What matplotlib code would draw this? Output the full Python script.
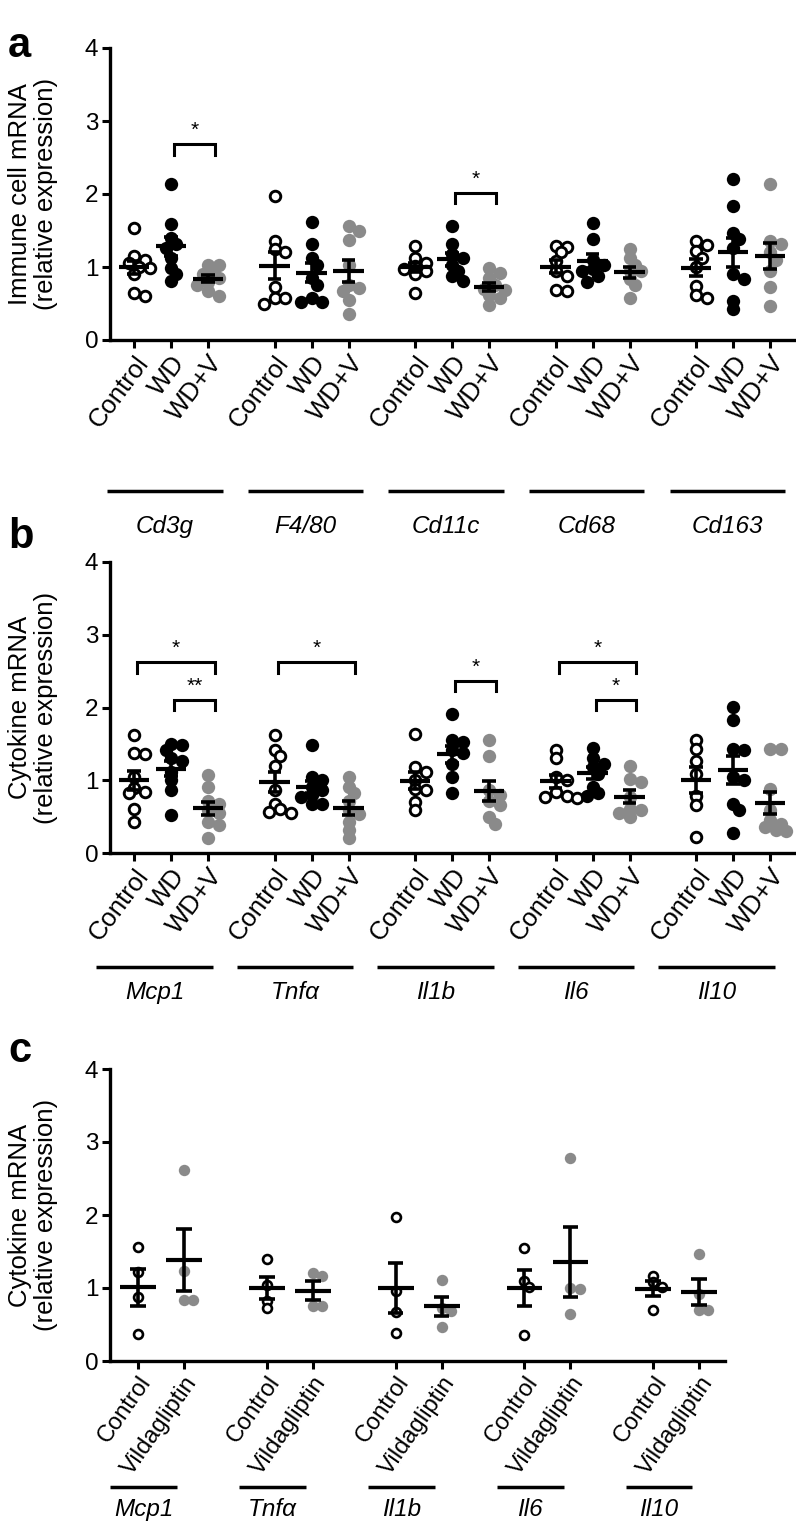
import numpy as np
import matplotlib
matplotlib.use('Agg')
import matplotlib.pyplot as plt
from matplotlib.transforms import blended_transform_factory

plt.rcParams['font.family'] = ['Liberation Sans', 'DejaVu Sans']

# ---------------- data ----------------
groups_ab = ['Control', 'WD', 'WD+V']
groups_c = ['Control', 'Vildagliptin']

genes_a = ['Cd3g', 'F4/80', 'Cd11c', 'Cd68', 'Cd163']
a_control = [
    [1.53, 1.15, 1.10, 1.05, 1.00, 0.98, 0.90, 0.65, 0.60],
    [1.97, 1.36, 1.24, 1.20, 0.72, 0.57, 0.57, 0.50],
    [1.29, 1.13, 1.06, 1.01, 0.97, 0.95, 0.90, 0.64],
    [1.29, 1.28, 1.20, 1.08, 0.94, 0.87, 0.69, 0.67],
    [1.36, 1.30, 1.22, 1.13, 1.00, 0.74, 0.62, 0.57],
]
a_wd = [
    [2.14, 1.59, 1.40, 1.31, 1.26, 1.13, 0.99, 0.90, 0.81],
    [1.62, 1.32, 1.13, 1.03, 0.85, 0.76, 0.57, 0.52, 0.52],
    [1.56, 1.31, 1.18, 1.13, 1.03, 0.95, 0.87, 0.81],
    [1.60, 1.38, 1.10, 1.03, 0.97, 0.95, 0.87, 0.80],
    [2.20, 1.83, 1.47, 1.38, 1.26, 0.90, 0.83, 0.53, 0.42],
]
a_wdv = [
    [1.03, 1.03, 0.95, 0.90, 0.85, 0.80, 0.75, 0.67, 0.60],
    [1.56, 1.50, 1.37, 1.03, 0.76, 0.71, 0.67, 0.55, 0.35],
    [0.99, 0.92, 0.85, 0.76, 0.70, 0.69, 0.62, 0.57, 0.48],
    [1.24, 1.13, 1.03, 0.95, 0.94, 0.83, 0.75, 0.57],
    [2.14, 1.36, 1.31, 1.20, 1.10, 0.95, 0.72, 0.46],
]
# significance: (gene index, group from, group to, bracket height, label)
sig_a = [(0, 1, 2, 2.68, '*'), (2, 1, 2, 2.01, '*')]

genes_b = ['Mcp1', 'Tnfα', 'Il1b', 'Il6', 'Il10']
b_control = [
    [1.62, 1.37, 1.36, 1.04, 0.90, 0.84, 0.82, 0.61, 0.43],
    [1.62, 1.42, 1.33, 1.20, 0.86, 0.68, 0.60, 0.57, 0.55],
    [1.63, 1.18, 1.11, 1.00, 0.88, 0.86, 0.70, 0.59],
    [1.41, 1.30, 1.04, 1.00, 0.84, 0.78, 0.77, 0.75],
    [1.55, 1.43, 1.27, 1.09, 0.79, 0.66, 0.22],
]
b_wd = [
    [1.50, 1.48, 1.41, 1.30, 1.27, 1.11, 1.00, 0.86, 0.52],
    [1.48, 1.04, 1.00, 0.91, 0.86, 0.80, 0.77, 0.68, 0.68],
    [1.91, 1.55, 1.52, 1.41, 1.37, 1.23, 1.04, 0.82],
    [1.45, 1.30, 1.23, 1.18, 1.09, 0.91, 0.82, 0.79],
    [2.01, 1.83, 1.43, 1.41, 1.04, 1.01, 0.68, 0.59, 0.28],
]
b_wdv = [
    [1.07, 0.91, 0.72, 0.68, 0.59, 0.55, 0.43, 0.38, 0.20],
    [1.04, 0.91, 0.82, 0.72, 0.59, 0.54, 0.43, 0.31, 0.20],
    [1.55, 1.34, 0.86, 0.80, 0.72, 0.66, 0.49, 0.40],
    [1.19, 1.02, 0.98, 0.77, 0.61, 0.59, 0.55, 0.50],
    [1.43, 1.43, 0.88, 0.59, 0.45, 0.40, 0.36, 0.31, 0.30],
]
sig_b = [(0, 0, 2, 2.62, '*'), (0, 1, 2, 2.10, '**'), (1, 0, 2, 2.62, '*'),
         (2, 1, 2, 2.36, '*'), (3, 0, 2, 2.62, '*'), (3, 1, 2, 2.10, '*')]

genes_c = ['Mcp1', 'Tnfα', 'Il1b', 'Il6', 'Il10']
c_control = [
    [1.56, 1.22, 0.88, 0.37],
    [1.40, 1.04, 0.82, 0.73],
    [1.97, 0.96, 0.67, 0.39],
    [1.55, 1.10, 1.02, 0.35],
    [1.17, 1.08, 1.02, 0.70],
]
c_vild = [
    [2.62, 1.23, 0.84, 0.84],
    [1.20, 1.16, 0.75, 0.75],
    [1.11, 0.72, 0.69, 0.47],
    [2.78, 1.00, 0.99, 0.65],
    [1.47, 0.92, 0.70, 0.70],
]

ylabel_a = 'Immune cell mRNA\n(relative expression)'
ylabel_bc = 'Cytokine mRNA\n(relative expression)'
yticks = [0, 1, 2, 3, 4]

# ---------------- styles ----------------
GRAY = '#8a8a8a'
open_style = dict(marker='o', mfc='white', mec='black')
black_style = dict(marker='o', mfc='black', mec='black')
gray_style = dict(marker='o', mfc=GRAY, mec=GRAY)

W, H = 796, 1524
fig = plt.figure(figsize=(W / 100, H / 100), dpi=100)


def rect(l, r, t, b):
    return [l / W, 1 - b / H, (r - l) / W, (b - t) / H]


def swarm(vals, center, ax, diam_px, mind_frac=0.58):
    p0 = ax.transData.transform((0, 0))
    p1 = ax.transData.transform((1, 1))
    ppx, ppy = p1[0] - p0[0], p1[1] - p0[1]
    vals = np.asarray(vals, dtype=float)
    xs = np.zeros(len(vals))
    placed = []
    step = diam_px * 0.42
    mind = diam_px * mind_frac
    for i in np.argsort(-vals):
        y = vals[i] * ppy
        for k in [0, 1, -1, 2, -2, 3, -3, 4, -4]:
            x = k * step
            if all((x - px) ** 2 + (y - py) ** 2 >= mind ** 2 for px, py in placed):
                break
        placed.append((x, y))
        xs[i] = center + x / ppx
    return xs


def setup_axes(ax, xlim, positions, labels, rot=53, xfs=18.5):
    ax.set_xlim(*xlim)
    ax.set_ylim(0, 4)
    ax.set_yticks(yticks)
    ax.tick_params(axis='y', length=5.5, width=2.2, labelsize=17.5, pad=3)
    ax.tick_params(axis='x', length=6, width=2.2, labelsize=xfs, pad=2)
    for s in ['top', 'right']:
        ax.spines[s].set_visible(False)
    for s in ['left', 'bottom']:
        ax.spines[s].set_linewidth(2.4)
    ax.set_xticks(positions)
    ax.set_xticklabels(labels, rotation=rot, ha='right', va='top',
                       rotation_mode='anchor')
    ax.patch.set_visible(False)


def draw_group(ax, vals, x, style, diam_px, ms_fill, ms_open, mew,
               bar_half, cap_half, lw_bar, lw_err):
    xs = swarm(vals, x, ax, diam_px)
    if style['mfc'] == 'white':
        ax.plot(xs, vals, ls='none', ms=ms_open, mew=mew, clip_on=False,
                zorder=3, **style)
    else:
        ax.plot(xs, vals, ls='none', ms=ms_fill, mew=0, clip_on=False,
                zorder=3, **style)
    v = np.asarray(vals)
    m = v.mean()
    sem = v.std(ddof=1) / np.sqrt(len(v))
    ax.plot([x - bar_half, x + bar_half], [m, m], color='black', lw=lw_bar,
            solid_capstyle='butt', zorder=5)
    ax.plot([x, x], [m - sem, m + sem], color='black', lw=lw_err,
            solid_capstyle='butt', zorder=5)
    for yy in (m - sem, m + sem):
        ax.plot([x - cap_half, x + cap_half], [yy, yy], color='black',
                lw=lw_err, solid_capstyle='butt', zorder=5)


def gene_labels(ax, genes, starts, x0, x1, yline, ytext):
    tr = blended_transform_factory(ax.transData, ax.transAxes)
    for g, s in zip(genes, starts):
        ax.plot([s + x0, s + x1], [yline, yline], color='black', lw=2.5,
                transform=tr, clip_on=False, solid_capstyle='butt')
        ax.text(s + (x0 + x1) / 2, ytext, g, transform=tr, ha='center',
                va='center', fontsize=17.5, style='italic')


def brackets(ax, sigs, positions_fn):
    for gi, g0, g1, h, lab in sigs:
        xa = positions_fn(gi, g0) + 0.08
        xb = positions_fn(gi, g1) + 0.18
        ax.plot([xa, xa, xb, xb], [h - 0.14, h, h, h - 0.14], color='black',
                lw=2.2, solid_joinstyle='miter', clip_on=False, zorder=4)
        ax.text((xa + xb) / 2, h + 0.06, lab, ha='center', va='bottom',
                fontsize=15)


# ---------------- panels a and b ----------------
GSP = 3.8


def pos_ab(gi, j):
    return gi * GSP + j


for (rect_px, ctrl, wd, wdv, genes, sigs, ylab, letter, letter_y,
     yl_line, yl_text, gx0, gx1) in [
        ((110, 796, 48, 340), a_control, a_wd, a_wdv, genes_a, sig_a,
         ylabel_a, 'a', 57, -0.517, -0.64, -0.72, 2.4),
        ((110, 796, 562, 853), b_control, b_wd, b_wdv, genes_b, sig_b,
         ylabel_bc, 'b', 548, -0.392, -0.48, -1.02, 2.13)]:
    ax = fig.add_axes(rect(*rect_px))
    positions = [pos_ab(g, j) for g in range(len(genes)) for j in range(3)]
    labels = groups_ab * len(genes)
    setup_axes(ax, (-0.65, 17.9), positions, labels)
    for gi in range(len(genes)):
        for j, (data, st) in enumerate([(ctrl, open_style), (wd, black_style),
                                         (wdv, gray_style)]):
            draw_group(ax, data[gi], pos_ab(gi, j), st, diam_px=13,
                       ms_fill=9.6, ms_open=7.6, mew=2.1, bar_half=0.41,
                       cap_half=0.18, lw_bar=3.0, lw_err=2.6)
    brackets(ax, sigs, pos_ab)
    gene_labels(ax, genes, [pos_ab(g, 0) for g in range(len(genes))],
                gx0, gx1, yl_line, yl_text)
    t, b = rect_px[2], rect_px[3]
    fig.text(33 / W, 1 - ((t + b) / 2) / H, ylab, rotation=90, ha='center',
             va='center', fontsize=18.5, multialignment='center',
             linespacing=1.15)
    fig.text(8 / W, 1 - letter_y / H, letter, fontsize=30, fontweight='bold',
             ha='left', va='baseline')

# ---------------- panel c ----------------
GSC = 2.8


def pos_c(gi, j):
    return gi * GSC + j


axc = fig.add_axes(rect(110, 725, 1069, 1361))
positions = [pos_c(g, j) for g in range(len(genes_c)) for j in range(2)]
setup_axes(axc, (-0.61, 12.76), positions, groups_c * len(genes_c), rot=55,
           xfs=17)
for gi in range(len(genes_c)):
    for j, (data, st) in enumerate([(c_control, open_style), (c_vild, gray_style)]):
        draw_group(axc, data[gi], pos_c(gi, j), st, diam_px=11,
                   ms_fill=8.2, ms_open=6.4, mew=1.9, bar_half=0.39,
                   cap_half=0.17, lw_bar=3.0, lw_err=2.6)
gene_labels(axc, genes_c, [pos_c(g, 0) for g in range(len(genes_c))],
            -0.6, 0.85, -0.432, -0.51)
fig.text(33 / W, 1 - ((1069 + 1361) / 2) / H, ylabel_bc, rotation=90,
         ha='center', va='center', fontsize=18.5, multialignment='center',
         linespacing=1.15)
fig.text(8 / W, 1 - 1062 / H, 'c', fontsize=30, fontweight='bold',
         ha='left', va='baseline')

fig.savefig('out.png', dpi=100)
